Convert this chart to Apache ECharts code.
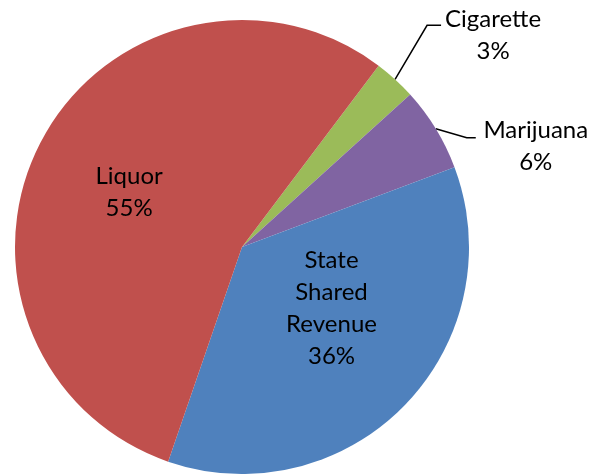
<!DOCTYPE html>
<html>
<head>
<meta charset="utf-8">
<script src="https://cdn.jsdelivr.net/npm/echarts@6/dist/echarts.min.js"></script>
<style>
  html, body { margin: 0; padding: 0; background: #fff; }
  #chart { width: 599px; height: 474px; }
</style>
</head>
<body>
<div id="chart"></div>
<script>
// slices, clockwise from the green one
var categories = ['Cigarette', 'Marijuana', 'State Shared Revenue', 'Liquor'];
var shares = [3, 6, 36, 55];
var sliceColors = ['#9BBB59', '#8064A2', '#4F81BD', '#C0504D'];

var myChart = echarts.init(document.getElementById('chart'));

var data = categories.map(function (name, i) {
  var outside = i < 2;
  return {
    name: name,
    value: shares[i],
    itemStyle: { color: sliceColors[i] },
    label: { position: outside ? 'outside' : 'inside' },
    labelLine: { show: outside }
  };
});

// label offsets relative to library anchor (edge point for outside labels)
var labelShift = {
  0: { label: [98, -44], line: [[32, -54], [46, -54]] },
  1: { label: [100, 18], line: [[31, 9], [40, 9]] },
  2: { dx: 6, dy: -20 },
  3: { dx: -10, dy: 0 }
};

var option = {
  animation: false,
  series: [{
    type: 'pie',
    center: [242, 247],
    radius: 227,
    startAngle: 53,
    clockwise: true,
    data: data,
    label: {
      color: '#000',
      fontFamily: 'Lato',
      fontSize: 24,
      lineHeight: 32,
      align: 'center',
      formatter: function (p) {
        return p.name.split(' ').join('\n') + '\n' + p.value + '%';
      }
    },
    labelLine: {
      length: 30,
      length2: 12,
      lineStyle: { color: '#000', width: 1.5 }
    },
    labelLayout: function (params) {
      var s = labelShift[params.dataIndex];
      if (s.label && params.labelLinePoints) {
        var p = params.labelLinePoints[0];
        return {
          x: p[0] + s.label[0],
          y: p[1] + s.label[1],
          align: 'center',
          verticalAlign: 'middle',
          labelLinePoints: [
            [p[0], p[1]],
            [p[0] + s.line[0][0], p[1] + s.line[0][1]],
            [p[0] + s.line[1][0], p[1] + s.line[1][1]]
          ]
        };
      }
      return { dx: s.dx || 0, dy: s.dy || 0 };
    }
  }]
};
myChart.setOption(option);
</script>
</body>
</html>
